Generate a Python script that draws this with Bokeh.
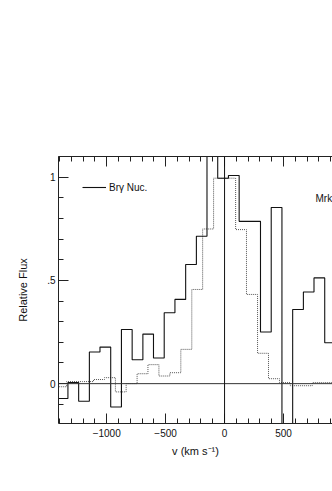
from bokeh.plotting import figure
from bokeh.models import (Range1d, LinearAxis, FixedTicker, Span, Legend, LegendItem, Label,
                          CustomLabelingPolicy)
from bokeh.embed import file_html
from bokeh.resources import INLINE

# ---- data ----
# Br-gamma nuclear spectrum (solid histogram): bin edges (km/s) and relative flux per bin
brg_edges = [-1420, -1329, -1238, -1147, -1057, -966, -875, -784, -693, -603, -512,
             -421, -330, -239, -149, -58, 33, 124, 215, 305, 396, 487, 578, 669,
             759, 850, 941]
brg_flux = [-0.072, 0.005, -0.085, 0.153, 0.177, -0.113, 0.262, 0.116, 0.240, 0.124,
            0.343, 0.408, 0.577, 0.714, 1.30, 0.995, 1.008, 0.786, 0.786, 0.250,
            0.853, -0.30, 0.359, 0.444, 0.512, 0.198]

# comparison spectrum (dotted histogram)
cmp_edges = [-1420, -1340, -1298, -1205, -1112, -1019, -926, -835, -742, -650, -557,
             -464, -371, -278, -186, -93, 2, 94, 186, 280, 373, 466, 558, 651, 744,
             837, 930]
cmp_flux = [-0.015, 0.01, 0.01, 0.01, 0.02, 0.029, -0.04, 0.0, 0.048, 0.092, 0.037,
            0.053, 0.166, 0.456, 0.749, 0.995, 0.995, 0.746, 0.432, 0.147, 0.024,
            0.005, -0.01, -0.01, 0.005, 0.005]

x_major = [-1000, -500, 0, 500]
x_labels = {-1000: "\u22121000", -500: "\u2212500", 0: "0", 500: "500"}
x_minor = list(range(-1400, 1000, 100))
y_major = [0, 0.5, 1]
y_labels = {0: "0", 0.5: ".5", 1: "1"}
y_minor = [round(-0.2 + 0.1 * i, 1) for i in range(14)]

FONT = "Liberation Sans"

p = figure(width=332, height=478,
           x_range=Range1d(-1409, 916), y_range=Range1d(-0.193, 1.100),
           output_backend="svg", toolbar_location=None,
           min_border_left=58, min_border_right=0,
           min_border_top=156, min_border_bottom=55)
p.outline_line_color = None
p.grid.visible = False
p.background_fill_color = "white"
p.border_fill_color = "white"

bottom = p.xaxis[0]
left = p.yaxis[0]
bottom.ticker = FixedTicker(ticks=x_major, minor_ticks=x_minor)
left.ticker = FixedTicker(ticks=y_major, minor_ticks=y_minor)
bottom.major_label_overrides = x_labels
left.major_label_overrides = y_labels

# top frame edge: ticks only, no labels
top = LinearAxis(ticker=FixedTicker(ticks=x_major, minor_ticks=x_minor),
                 major_label_policy=CustomLabelingPolicy(code="return []"),
                 major_label_standoff=0)
p.add_layout(top, "above")

for ax in [bottom, left, top]:
    ax.major_tick_in = 10
    ax.major_tick_out = 0
    ax.minor_tick_in = 5
    ax.minor_tick_out = 0
    ax.axis_line_color = "#222222"
    ax.major_tick_line_color = "#222222"
    ax.minor_tick_line_color = "#222222"
    ax.major_label_text_font = FONT
    ax.major_label_text_color = "#111111"
    ax.axis_label_text_font = FONT
    ax.axis_label_text_font_style = "normal"
    ax.axis_label_text_color = "#111111"

bottom.major_label_text_font_size = "10px"
left.major_label_text_font_size = "10px"
bottom.axis_label = "v (km s\u207b\u00b9)"
left.axis_label = "Relative Flux"
bottom.axis_label_text_font_size = "11px"
left.axis_label_text_font_size = "11px"
bottom.major_label_standoff = 5
bottom.axis_label_standoff = 5
left.major_label_standoff = 3
left.axis_label_standoff = 15

p.add_layout(Span(location=0, dimension="width", line_color="#333333", line_width=1))
p.add_layout(Span(location=0, dimension="height", line_color="#111111", line_width=1))

dotted = p.step(x=cmp_edges, y=cmp_flux + [cmp_flux[-1]], mode="after",
                line_color="#555555", line_width=1, line_dash="1 1")
solid = p.step(x=brg_edges, y=brg_flux + [brg_flux[-1]], mode="after",
               line_color="#111111", line_width=1.1)

legend = Legend(items=[LegendItem(label="Br\u03b3 Nuc.", renderers=[solid])],
                location=(24, 226), border_line_color=None, background_fill_alpha=0,
                padding=0, margin=0, glyph_width=24, glyph_height=20, label_height=20,
                label_standoff=3, label_text_font=FONT, label_text_font_size="10px",
                label_text_color="#111111")
p.add_layout(legend)

p.add_layout(Label(x=772, y=0.896, text="Mrk", text_font=FONT, text_font_size="10px",
                   text_baseline="middle", text_color="#111111"))

open("out.html", "w").write(file_html(p, INLINE))
